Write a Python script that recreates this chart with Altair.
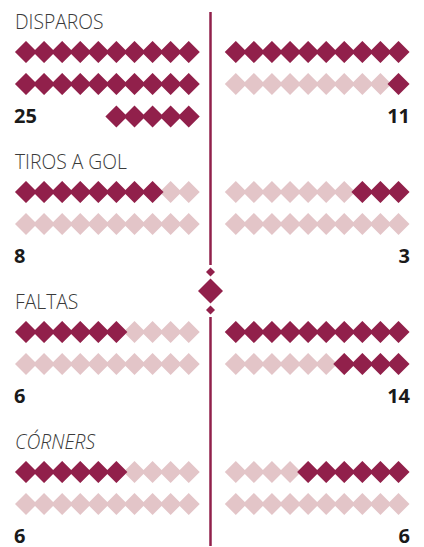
import altair as alt
import pandas as pd

# ---- data ----
categories = ["DISPAROS", "TIROS A GOL", "FALTAS", "CÓRNERS"]
home = [25, 8, 6, 6]
away = [11, 3, 14, 6]

# ---- style / layout ----
DARK = "#91204b"
LIGHT = "#e3c5c8"
ITALIC = {"CÓRNERS"}
SECTION_H = 140
TITLE_DY = 23
ROW_DY = [52, 84, 116.5]
NUM_DY = 116.5
LEFT_X0, RIGHT_X0, STEP = 26, 235.8, 18.08
PER_ROW = 10
W, H = 424, 547

diam = []
for i, cat in enumerate(categories):
    base = i * SECTION_H
    for side, n, x0 in (("L", home[i], LEFT_X0), ("R", away[i], RIGHT_X0)):
        # background rows
        for r in range(2):
            for c in range(PER_ROW):
                diam.append(dict(x=x0 + STEP * c, y=base + ROW_DY[r], kind="light"))
        rem = n
        for r in range(3):
            k = min(rem, PER_ROW)
            rem -= k
            if k <= 0:
                break
            if side == "L" and r < 2:
                cols = range(0, k)
            else:
                cols = range(PER_ROW - k, PER_ROW)
            for c in cols:
                diam.append(dict(x=x0 + STEP * c, y=base + ROW_DY[r], kind="dark"))
df = pd.DataFrame(diam)

titles = pd.DataFrame(
    [dict(x=15, y=i * SECTION_H + TITLE_DY, t=c, it=c in ITALIC) for i, c in enumerate(categories)]
)
nums_l = pd.DataFrame([dict(x=14, y=i * SECTION_H + NUM_DY, t=str(v)) for i, v in enumerate(home)])
nums_r = pd.DataFrame([dict(x=410, y=i * SECTION_H + NUM_DY, t=str(v)) for i, v in enumerate(away)])

rules = pd.DataFrame([dict(x=210.5, y=12, y2=265), dict(x=210.5, y=317, y2=546)])
orn = pd.DataFrame([dict(x=210.5, y=272, s=81), dict(x=210.5, y=291, s=625), dict(x=210.5, y=310, s=81)])

xs = alt.Scale(domain=[8, W - 8], range=[0, W - 16])
ys = alt.Scale(domain=[8, H], range=[0, H - 8])
X = alt.X("x:Q", scale=xs, axis=None)
Y = alt.Y("y:Q", scale=ys, axis=None)

rule = alt.Chart(rules).mark_rule(color=DARK, strokeWidth=2.5).encode(
    x=X, y=Y, y2="y2:Q"
)
ornament = alt.Chart(orn).mark_point(shape="diamond", filled=True, color=DARK, opacity=1, strokeWidth=0).encode(
    x=X, y=Y, size=alt.Size("s:Q", scale=None, legend=None)
)
light = alt.Chart(df).transform_filter(alt.datum.kind == "light").mark_point(
    shape="diamond", filled=True, color=LIGHT, opacity=1, size=484, strokeWidth=0
).encode(x=X, y=Y)
dark = alt.Chart(df).transform_filter(alt.datum.kind == "dark").mark_point(
    shape="diamond", filled=True, color=DARK, opacity=1, size=484, strokeWidth=0
).encode(x=X, y=Y)

tfont = dict(font="Open Sans", fontSize=19.3, fontWeight=300, color="#3a3a3a", baseline="middle", align="left")
t_norm = alt.Chart(titles).transform_filter(~alt.datum.it).mark_text(**tfont).encode(x=X, y=Y, text="t:N")
t_ital = alt.Chart(titles).transform_filter(alt.datum.it).mark_text(fontStyle="italic", **tfont).encode(
    x=X, y=Y, text="t:N"
)
nfont = dict(font="Open Sans", fontSize=20, fontWeight="bold", color="#1a1a1a", baseline="middle")
nl = alt.Chart(nums_l).mark_text(align="left", **nfont).encode(x=X, y=Y, text="t:N")
nr = alt.Chart(nums_r).mark_text(align="right", **nfont).encode(x=X, y=Y, text="t:N")

chart = (
    alt.layer(rule, ornament, light, dark, t_norm, t_ital, nl, nr)
    .properties(width=W - 16, height=H - 8, padding=0, autosize=alt.AutoSizeParams(type="none"))
    .configure_view(stroke=None)
)
chart.save("out.html", embed_options={"renderer": "svg", "actions": False})
